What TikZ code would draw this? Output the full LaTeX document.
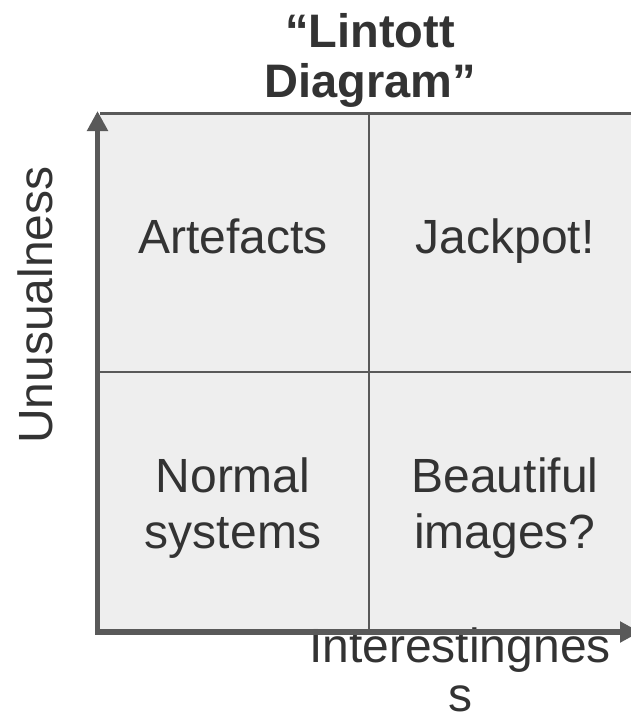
\documentclass[tikz,border=0pt]{standalone}
\usepackage{fontspec}
\setmainfont{Liberation Sans}
\usetikzlibrary{arrows.meta}
\definecolor{cellfill}{HTML}{EEEEEE}
\definecolor{linegray}{HTML}{595959}
\definecolor{textgray}{HTML}{333333}
\tikzset{
  lbl/.style={anchor=base, inner sep=0pt, text=textgray, font=\fontsize{48}{56}\selectfont},
  ttl/.style={anchor=base, inner sep=0pt, text=textgray, font=\fontsize{47}{50}\selectfont\bfseries},
  grid line/.style={draw=linegray, line width=2.2pt},
  axis/.style={draw=linegray, line width=5.5pt, -{Triangle[length=20pt,width=20pt]}},
}
\begin{document}
\begin{tikzpicture}[x=1pt,y=-1pt]
\useasboundingbox (0,0) rectangle (630,720);
% cells background
\fill[cellfill] (100,113) rectangle (641,630);
% grid lines
\draw[grid line] (100,113.5) -- (641,113.5);
\draw[grid line] (369,113) -- (369,630);
\draw[grid line] (100,372) -- (641,372);
% title
\node[ttl] (t1) at (370,47) {“Lintott};
\node[ttl] (t2) at (370,97) {Diagram”};
% cell labels
\node[lbl] (art) at (233,253) {Artefacts};
\node[lbl] (jack) at (505,253) {Jackpot!};
\node[lbl] (norm1) at (233,492) {Normal};
\node[lbl] (norm2) at (233,548) {systems};
\node[lbl] (beau1) at (505,492) {Beautiful};
\node[lbl] (beau2) at (505,548) {images?};
% axis labels
\node[lbl] (xl1) at (460,662) {Interestingnes};
\node[lbl] (xl2) at (460,711) {s};
\node[lbl, rotate=90] (yl) at (52,305) {Unusualness};
% axes
\coordinate (o) at (97.5,632);
\coordinate (ytip) at (97.5,111);
\coordinate (xtip) at (640,632);
\draw[axis] (97.5,634.5) -- (ytip);
\draw[axis] (95,632) -- (xtip);
\end{tikzpicture}
\end{document}
